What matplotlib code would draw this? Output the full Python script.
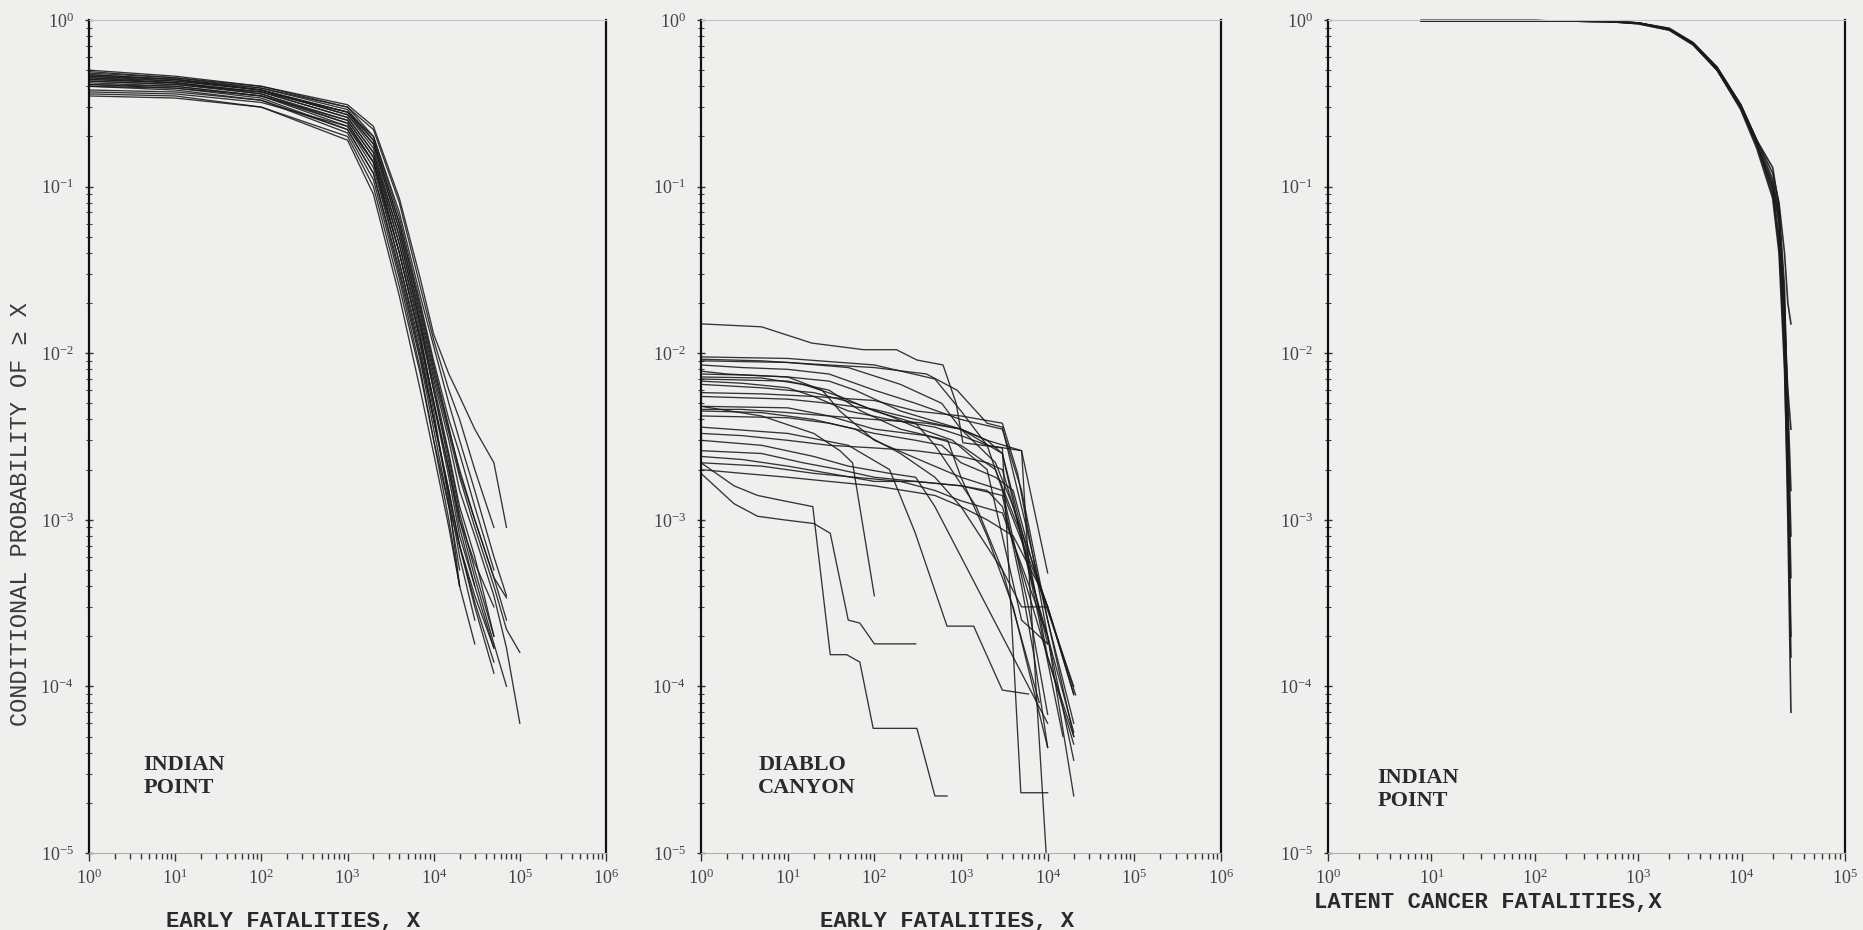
import matplotlib
matplotlib.use("Agg")
import matplotlib.pyplot as plt
from matplotlib.ticker import LogLocator, FuncFormatter, NullFormatter

# ---------------- data ----------------
# Panel 1: Indian Point, early fatalities (shared x grid, curves end where their list ends)
IP_EARLY_X = [1, 10, 100, 1000, 2000, 4000, 7000, 10000, 15000, 20000, 30000, 50000, 70000, 100000]
IP_EARLY_Y = [
    [0.50, 0.46, 0.40, 0.30, 0.20, 0.065, 0.020, 0.009, 0.004, 0.0025, 0.0012, 0.0005],
    [0.48, 0.45, 0.39, 0.29, 0.19, 0.060, 0.018, 0.008, 0.0035, 0.002, 0.001, 0.00045, 0.00025],
    [0.47, 0.44, 0.38, 0.28, 0.18, 0.055, 0.016, 0.007, 0.003, 0.0015, 0.0008, 0.00035, 0.00017, 0.00006],
    [0.46, 0.43, 0.38, 0.27, 0.17, 0.050, 0.015, 0.0065, 0.0025, 0.0012, 0.0006, 0.0002],
    [0.45, 0.42, 0.37, 0.26, 0.16, 0.045, 0.013, 0.005, 0.0018, 0.0008, 0.0004],
    [0.44, 0.42, 0.36, 0.25, 0.15, 0.040, 0.012, 0.0045, 0.0013, 0.0004],
    [0.43, 0.41, 0.36, 0.24, 0.14, 0.035, 0.011, 0.004, 0.0015, 0.0007, 0.0003, 0.00012],
    [0.42, 0.40, 0.35, 0.24, 0.14, 0.040, 0.012, 0.005, 0.002, 0.001, 0.00055, 0.0003],
    [0.41, 0.40, 0.35, 0.23, 0.13, 0.035, 0.010, 0.004, 0.0014, 0.0006, 0.00025],
    [0.40, 0.39, 0.34, 0.22, 0.12, 0.030, 0.009, 0.0035, 0.0012, 0.0005],
    [0.38, 0.37, 0.33, 0.21, 0.11, 0.028, 0.008, 0.003, 0.001, 0.0004],
    [0.36, 0.35, 0.30, 0.19, 0.09, 0.022, 0.006, 0.0025, 0.0009, 0.0004, 0.00018],
    [0.35, 0.34, 0.30, 0.20, 0.10, 0.025, 0.0075, 0.003, 0.0012, 0.0007, 0.00035, 0.00017],
    [0.47, 0.44, 0.39, 0.30, 0.22, 0.080, 0.025, 0.012, 0.006, 0.004, 0.002, 0.0009],
    [0.44, 0.42, 0.37, 0.28, 0.20, 0.070, 0.022, 0.011, 0.005, 0.003, 0.0015, 0.0006, 0.00035],
    [0.49, 0.45, 0.40, 0.31, 0.23, 0.085, 0.028, 0.013, 0.0075, 0.0055, 0.0035, 0.0022, 0.0009],
    [0.45, 0.43, 0.38, 0.27, 0.18, 0.055, 0.017, 0.0075, 0.0033, 0.0018, 0.0009, 0.0004, 0.00022, 0.00016],
    [0.43, 0.41, 0.37, 0.26, 0.16, 0.050, 0.015, 0.006, 0.0024, 0.0011, 0.0005, 0.0002],
    [0.41, 0.39, 0.35, 0.25, 0.15, 0.045, 0.014, 0.006, 0.0022, 0.001, 0.00045, 0.00018, 0.0001],
    [0.37, 0.36, 0.32, 0.23, 0.14, 0.040, 0.012, 0.0052, 0.002, 0.0009, 0.0004, 0.00017],
    [0.40, 0.38, 0.33, 0.22, 0.12, 0.032, 0.0095, 0.004, 0.0015, 0.0007, 0.00032, 0.00014],
    [0.46, 0.44, 0.38, 0.28, 0.19, 0.060, 0.019, 0.0085, 0.0036, 0.0019, 0.001, 0.00045, 0.00034],
]

# Panel 2: Diablo Canyon, early fatalities (each curve has its own x points)
DC_EARLY_X = [
    [1, 5, 19, 75, 180, 310, 620, 880, 1050, 3000, 4900, 10000],
    [1, 10, 100, 500, 1000, 2000, 5000, 9600],
    [1, 10, 50, 200, 600, 1000, 2500, 4000, 10000, 20000],
    [1, 3, 10, 30, 100, 300, 1000, 3000, 5000, 10000, 20000],
    [1, 2, 10, 30, 60, 200, 1000, 3000, 6000, 10000, 20000],
    [1, 3, 10, 25, 40, 100, 400, 1000, 3000, 6000, 10000],
    [1, 5, 15, 40, 100, 300, 500, 1500, 3000, 8000],
    [1, 10, 30, 70, 200, 700, 1000, 2000, 4000, 10000],
    [1, 5, 20, 60, 150, 300, 800, 2000, 5000, 10000],
    [1, 5, 20, 100, 300, 1000, 3000, 4500, 10000, 20000],
    [1, 10, 30, 100, 400, 1000, 2500, 5000, 10000],
    [1, 3, 10, 30, 100, 400, 1000, 2000, 3000, 6000, 10000, 20000],
    [1, 5, 20, 60, 200, 500, 1000, 3000, 5000, 10000],
    [1, 10, 30, 100, 300, 600, 1000, 2500, 4000, 7000, 10000, 20000],
    [1, 10, 50, 150, 295, 690, 1400, 3000, 6000],
    [1, 3, 10, 30, 100, 300, 1000, 2000, 3000, 5000, 8000, 15000],
    [1, 5, 20, 50, 150, 300, 500, 1000, 2000, 4000, 10000],
    [1, 5, 15, 40, 100, 300, 1000, 2000, 3000, 5000, 10000, 20000],
    [1, 3, 10, 30, 100, 300, 1000, 3000, 5000, 7000, 10000],
    [1, 5, 20, 60, 200, 500, 1000, 3000, 10000, 20000],
    [1, 3, 10, 30, 100, 500, 1000, 2000, 4000, 8000, 20000],
    [1, 5, 20, 40, 56, 100],
    [1, 2.4, 4.5, 9, 19.5, 31, 48, 68, 97, 310, 500, 690],
    [1, 2.4, 4.5, 9, 20, 31, 50, 68, 100, 300],
    [1, 10, 30, 100, 300, 1000, 2000, 5000, 10000],
    [1, 3, 10, 20, 50, 150, 500, 1000, 2000, 3500, 10000, 21000],
    [1, 5, 20, 100, 400, 900, 2000, 3000, 6000, 10000, 20000],
]
DC_EARLY_Y = [
    [0.015, 0.0144, 0.0115, 0.0105, 0.0105, 0.0091, 0.0085, 0.005, 0.0029, 0.0027, 2.3e-5, 2.3e-5],
    [0.0095, 0.0093, 0.0085, 0.007, 0.0045, 0.0028, 0.0026, 1e-5],
    [0.009, 0.0088, 0.0082, 0.0065, 0.005, 0.0035, 0.0022, 0.0012, 3e-4, 9e-5],
    [0.0085, 0.0082, 0.008, 0.0075, 0.006, 0.005, 0.004, 0.0035, 0.0015, 2.5e-4, 5e-5],
    [0.0078, 0.0075, 0.0072, 0.0068, 0.006, 0.0045, 0.0035, 0.0025, 6e-4, 1.5e-4, 4.5e-5],
    [0.0075, 0.0074, 0.0072, 0.006, 0.0045, 0.003, 0.0022, 0.0018, 0.0015, 3e-4, 6.8e-5],
    [0.0072, 0.0071, 0.0065, 0.0055, 0.0045, 0.0038, 0.0028, 0.0012, 5e-4, 8e-5],
    [0.007, 0.0068, 0.006, 0.0045, 0.0035, 0.003, 0.0018, 8e-4, 3e-4, 4.3e-5],
    [0.0065, 0.0062, 0.0058, 0.005, 0.0042, 0.0036, 0.003, 0.002, 2.5e-4, 1.8e-4],
    [0.0058, 0.0057, 0.0055, 0.0052, 0.0045, 0.0042, 0.0038, 0.0019, 2e-4, 5.3e-5],
    [0.0048, 0.0047, 0.0042, 0.0035, 0.0032, 0.0028, 0.002, 8e-4, 1.8e-4],
    [0.0046, 0.0046, 0.0044, 0.0042, 0.004, 0.0038, 0.0035, 0.003, 0.0025, 5e-4, 2e-4, 3.6e-5],
    [0.0045, 0.0044, 0.004, 0.0035, 0.0025, 0.0018, 0.0012, 5e-4, 3e-4, 3e-4],
    [0.0042, 0.0041, 0.0038, 0.0033, 0.003, 0.0028, 0.0022, 0.0018, 0.0015, 5e-4, 3e-4, 8.9e-5],
    [0.0036, 0.0033, 0.0028, 0.002, 8.4e-4, 2.3e-4, 2.3e-4, 9.5e-5, 9e-5],
    [0.0033, 0.0032, 0.003, 0.0028, 0.0027, 0.0026, 0.0024, 0.0022, 0.002, 8e-4, 2.5e-4, 5e-5],
    [0.003, 0.0028, 0.0024, 0.0021, 0.0019, 0.0018, 0.0012, 6e-4, 3e-4, 1.5e-4, 6e-5],
    [0.0026, 0.0025, 0.0022, 0.002, 0.0018, 0.0017, 0.0016, 0.0015, 0.0012, 5e-4, 1.5e-4, 5e-5],
    [0.0024, 0.0023, 0.0021, 0.0019, 0.0017, 0.0017, 0.0016, 0.0014, 4e-4, 1.5e-4, 4.3e-5],
    [0.0022, 0.0021, 0.0019, 0.0018, 0.0017, 0.0015, 0.0013, 0.0011, 2e-4, 2.2e-5],
    [0.002, 0.0019, 0.0018, 0.0017, 0.0016, 0.0014, 0.0012, 0.001, 8e-4, 4e-4, 1e-4],
    [0.0048, 0.0042, 0.0033, 0.0026, 0.0022, 3.5e-4],
    [0.0022, 0.0016, 0.0014, 0.0013, 0.0012, 1.55e-4, 1.55e-4, 1.4e-4, 5.6e-5, 5.6e-5, 2.2e-5, 2.2e-5],
    [0.0019, 0.00125, 0.00105, 0.001, 0.00095, 0.00083, 0.00025, 0.00024, 0.00018, 0.00018],
    [0.0055, 0.0053, 0.005, 0.0046, 0.004, 0.0035, 0.003, 0.0026, 4.8e-4],
    [0.0068, 0.0066, 0.0062, 0.0055, 0.0045, 0.004, 0.0036, 0.0032, 0.0028, 0.0012, 3e-4, 8.9e-5],
    [0.0092, 0.009, 0.0086, 0.0082, 0.0075, 0.006, 0.0038, 0.0036, 8e-4, 2.5e-4, 6e-5],
]

# Panel 3: Indian Point, latent cancer fatalities
IP_LATENT_X = [8, 100, 500, 1000, 2000, 3400, 5800, 9800, 14000, 20000, 23000, 26000, 28000, 30000]
IP_LATENT_Y = [
    [0.99, 0.99, 0.98, 0.96, 0.88, 0.72, 0.50, 0.30, 0.18, 0.095, 0.050, 0.010, 1.0e-3, 7e-5],
    [0.99, 0.99, 0.98, 0.96, 0.89, 0.73, 0.52, 0.31, 0.19, 0.110, 0.070, 0.020, 5.0e-3, 1.5e-3],
    [0.99, 0.99, 0.98, 0.96, 0.88, 0.72, 0.51, 0.31, 0.19, 0.120, 0.080, 0.040, 0.020, 0.015],
    [0.99, 0.99, 0.98, 0.95, 0.87, 0.71, 0.50, 0.29, 0.17, 0.085, 0.040, 8.0e-3, 1.5e-3, 1.5e-4],
    [0.99, 0.99, 0.98, 0.96, 0.88, 0.72, 0.51, 0.30, 0.18, 0.100, 0.060, 0.015, 6.0e-3, 3.5e-3],
    [0.99, 0.99, 0.98, 0.96, 0.89, 0.73, 0.52, 0.31, 0.19, 0.130, 0.075, 0.025, 3.0e-3, 4.5e-4],
    [0.99, 0.99, 0.98, 0.95, 0.87, 0.71, 0.50, 0.30, 0.18, 0.090, 0.045, 0.012, 2.0e-3, 2.0e-4],
    [0.99, 0.99, 0.98, 0.96, 0.88, 0.72, 0.51, 0.30, 0.18, 0.105, 0.065, 0.018, 4.0e-3, 8.0e-4],
]

PANEL_LABELS = ["INDIAN\nPOINT", "DIABLO\nCANYON", "INDIAN\nPOINT"]
X_LABELS = ["EARLY FATALITIES, X", "EARLY FATALITIES, X", "LATENT CANCER FATALITIES,X"]
Y_LABEL = "CONDITIONAL PROBABILITY OF \u2265 X"
X_DECADES = [(0, 6), (0, 6), (0, 5)]
Y_DECADES = (-5, 0)

# ---------------- style ----------------
BG = "#efefed"
INK = "#1a1a1a"
plt.rcParams["mathtext.fontset"] = "custom"
plt.rcParams["mathtext.rm"] = "Liberation Serif"
plt.rcParams["mathtext.it"] = "Liberation Serif"
plt.rcParams["font.family"] = ["Liberation Serif", "DejaVu Serif"]

fig = plt.figure(figsize=(18.63, 9.30), dpi=100, facecolor=BG)

W = 1863.0
H = 930.0
ax_px = [(89, 517), (701, 520), (1328, 517)]
top_px, bot_px = 20, 853
axes = []
for left, width in ax_px:
    ax = fig.add_axes([left / W, 1 - bot_px / H, width / W, (bot_px - top_px) / H])
    ax.set_facecolor(BG)
    axes.append(ax)

def pow_fmt(v, pos):
    import math
    e = int(round(math.log10(v)))
    return r"$\mathregular{10^{%d}}$" % e

def draw_curves(ax, xs_list, ys_list, lw=0.95, alpha=0.88):
    for xs, ys in zip(xs_list, ys_list):
        ax.plot(xs, ys, color=INK, lw=lw, alpha=alpha, solid_joinstyle="round",
                clip_on=False)

draw_curves(axes[0], [IP_EARLY_X[:len(y)] for y in IP_EARLY_Y], IP_EARLY_Y)
draw_curves(axes[1], DC_EARLY_X, DC_EARLY_Y)
draw_curves(axes[2], [IP_LATENT_X[:len(y)] for y in IP_LATENT_Y], IP_LATENT_Y, lw=1.2, alpha=0.9)

label_pos = [(0.105, 0.118), (0.11, 0.118), (0.095, 0.102)]
xlabel_x = [0.395, 0.473, 0.31]
xlabel_pad = [17, 17, 3]
for i, ax in enumerate(axes):
    ax.set_xscale("log")
    ax.set_yscale("log")
    x0, x1 = X_DECADES[i]
    ax.set_xlim(10.0 ** x0, 10.0 ** x1)
    ax.set_ylim(10.0 ** Y_DECADES[0], 10.0 ** Y_DECADES[1])
    ax.xaxis.set_major_locator(LogLocator(base=10, numticks=20))
    ax.yaxis.set_major_locator(LogLocator(base=10, numticks=20))
    ax.xaxis.set_minor_locator(LogLocator(base=10, subs=range(2, 10), numticks=20))
    ax.yaxis.set_minor_locator(LogLocator(base=10, subs=range(2, 10), numticks=20))
    ax.xaxis.set_major_formatter(FuncFormatter(pow_fmt))
    ax.yaxis.set_major_formatter(FuncFormatter(pow_fmt))
    ax.xaxis.set_minor_formatter(NullFormatter())
    ax.yaxis.set_minor_formatter(NullFormatter())
    ax.tick_params(axis="both", which="major", labelsize=13, colors="#333333",
                   labelcolor="#444444", length=6, width=1.0)
    ax.tick_params(axis="x", which="both", direction="out", pad=5)
    ax.tick_params(axis="x", which="minor", length=4, width=1.0, colors="#333333")
    ax.tick_params(axis="y", which="both", direction="inout", pad=8)
    ax.tick_params(axis="y", which="minor", length=4, width=0.8, colors="#444444")
    for s in ("left", "right"):
        ax.spines[s].set_color("#111111")
        ax.spines[s].set_linewidth(1.6)
    ax.spines["top"].set_color("#c4c4c4")
    ax.spines["top"].set_linewidth(0.8)
    ax.spines["bottom"].set_color("#b0b0b0")
    ax.spines["bottom"].set_linewidth(0.8)
    ax.set_xlabel(X_LABELS[i], x=xlabel_x[i], ha="center", labelpad=xlabel_pad[i],
                  family=["Liberation Mono", "DejaVu Sans Mono"], fontsize=16,
                  fontweight="bold", color="#2a2a2a")
    ax.text(label_pos[i][0], label_pos[i][1], PANEL_LABELS[i], transform=ax.transAxes,
            ha="left", va="top", fontsize=16, fontweight="bold",
            family=["Liberation Serif", "DejaVu Serif"], color="#2a2a2a",
            linespacing=1.2)

fig.text(21 / W, 1 - 514 / H, Y_LABEL, rotation=90, ha="center", va="center",
         family=["Liberation Mono", "DejaVu Sans Mono"], fontsize=17, color="#3a3a3a")

fig.savefig("out.png", dpi=100, facecolor=BG)
